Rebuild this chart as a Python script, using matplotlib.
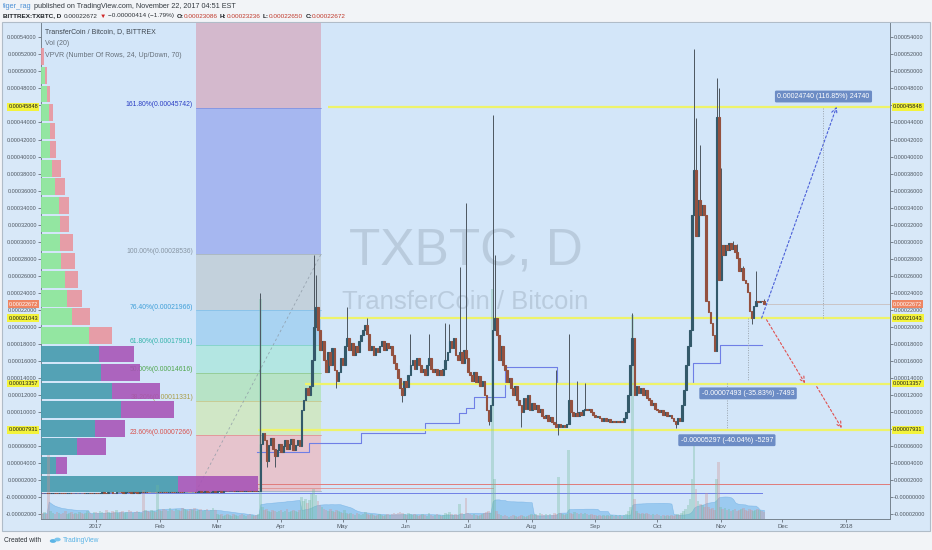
import numpy as np
import pandas as pd
import matplotlib
matplotlib.use('Agg')
import matplotlib.pyplot as plt
from matplotlib.patches import Rectangle, Circle
import matplotlib.transforms as mtrans

plt.rcParams['font.family'] = ['Liberation Sans', 'DejaVu Sans']

# ---------------- data ----------------
# prices in units of 1e-6 BTC ; days counted from 2017-01-01
start_day = -27  # 2016-12-05

closes_dec = [5.2, 5.0, 5.4, 5.1, 4.9, 5.3, 5.6, 5.2, 5.0, 5.5, 5.3, 5.1, 4.8, 5.2, 5.4, 5.0, 4.9, 5.3, 5.1, 5.5,
              5.2, 5.0, 5.4, 5.6, 5.3, 5.1, 5.5]
closes_jan = [5.4, 5.2, 5.6, 5.8, 5.5, 5.3, 5.7, 5.9, 5.6, 5.4, 5.8, 6.0, 5.7, 5.5, 5.9, 6.1, 5.8, 5.6, 6.0, 5.7,
              5.5, 5.9, 6.2, 5.9, 6.3, 6.0, 5.8, 6.1, 6.4, 6.0, 6.2]
closes_feb = [6.1, 6.4, 6.2, 6.0, 6.3, 6.5, 6.2, 6.0, 6.4, 6.6, 6.3, 6.1, 6.5, 6.7, 6.4, 6.2, 6.6, 6.3, 6.5, 6.8,
              6.4, 6.6, 6.9, 6.5, 6.3, 6.7, 7.0, 6.6]
closes_mar = [6.8, 7.1, 6.7, 6.9, 7.2, 6.8, 7.0, 7.3, 6.9, 7.1, 7.4, 7.0, 6.8, 7.2, 7.5, 7.1, 6.9, 7.3, 7.0, 6.9,
              7.0, 63, 75, 67, 43, 61, 70, 57, 49, 55, 62]
closes_apr = [53, 60, 67, 57, 63, 69, 55, 61, 67, 60, 102, 114, 128, 120, 131, 161, 200, 223, 196, 173,
              184, 161, 147, 170, 155, 175, 149, 137, 147, 163]
closes_may = [155, 178, 187, 173, 181, 167, 178, 170, 184, 190, 196, 202, 192, 173, 178, 167, 175, 170, 178, 184,
              173, 181, 175, 178, 167, 158, 151, 140, 128, 120, 137]
closes_jun = [130, 143, 155, 161, 151, 163, 155, 147, 151, 143, 155, 164, 151, 147, 151, 143, 149, 144, 151,
              161, 170, 184, 175, 187, 167, 161, 170, 158, 173, 163]
closes_jul = [147, 143, 137, 147, 135, 142, 131, 137, 120, 102, 90, 108, 196, 210, 190, 161, 178, 155, 149,
              135, 140, 128, 120, 131, 114, 108, 100, 116, 104, 120, 102]
closes_aug = [111, 104, 108, 100, 104, 96, 93, 97, 90, 94, 88, 86, 83, 86, 83, 85, 83, 86,
              114, 100, 96, 99, 95, 100, 97, 102, 104, 102, 104, 100, 97]
closes_sep = [94, 96, 93, 90, 93, 89, 92, 88, 89, 88, 89, 88, 90, 88, 93, 100, 120,
              155, 187, 120, 131, 123, 128, 120, 126, 116, 114, 108, 111, 104]
closes_oct = [102, 100, 102, 97, 100, 95, 97, 93, 90, 86, 93, 90, 108, 126, 155, 178, 196,
              331, 384, 307, 349, 331, 343, 331, 231, 217, 205, 190, 172, 446, 255]
closes_nov = [296, 284, 296, 290, 298, 292, 296, 288, 281, 266, 269, 255, 251, 241, 219, 210,
              225, 231, 229, 231, 230.86, 226.72]

wick_highs = {80: 240, 106: 284, 107: 261, 122: 223, 132: 211, 153: 192, 162: 192, 170: 205, 172: 204,
              177: 270, 180: 345, 193: 449, 194: 284, 224: 149, 230: 192, 234: 137, 238: 134, 261: 216,
              291: 526, 292: 445, 294: 413, 302: 492, 303: 480, 304: 387, 310: 301, 312: 297, 315: 272,
              321: 266, 325: 232.36}
wick_lows = {83: 35, 87: 35, 117: 128, 149: 112, 191: 85, 207: 82, 225: 73, 282: 81, 319: 204, 325: 226.5}

vol_dec = [5, 6, 7, 5, 64, 8, 6, 5, 7, 6, 5, 6, 8, 5, 6, 7, 5, 6, 5, 7, 6, 5, 6, 8, 6, 5, 7]
vol_jan = [7, 6, 8, 7, 6, 9, 7, 6, 8, 7, 9, 6, 7, 8, 6, 7, 9, 8, 6, 7, 8, 7, 6, 29, 9, 8, 7, 9, 8, 7, 34]
vol_feb = [9, 8, 10, 9, 8, 11, 9, 8, 10, 9, 8, 11, 10, 9, 8, 10, 9, 11, 8, 9, 10, 8, 9, 10, 8, 9, 11, 9]
vol_mar_a = [5, 4, 5, 3, 4, 5, 4, 3, 5, 4, 3, 4, 5, 4, 3, 4, 5, 4, 3, 4, 5]
vol_mar_b = [220, 12, 9, 10, 8, 7, 9, 8, 7, 8, 9, 7, 8, 10, 7, 8, 9, 8, 7, 9]
vol_apr = [22, 18, 20, 16, 19, 25, 30, 24, 18, 14, 12, 10, 9, 8, 10, 8, 7, 9, 8, 7]
vol_may = [6, 9, 6, 5, 6, 5, 4, 6, 5, 4, 5, 7, 5, 4, 5, 4, 3, 4, 5, 4, 3, 4, 5, 4, 5, 6, 5, 6, 7, 6]
vol_jun = [5, 4, 6, 5, 4, 5, 4, 3, 4, 5, 4, 3, 6, 4, 3, 4, 5, 4, 3, 4, 6, 5, 7, 5, 4, 5, 4, 15, 6, 5]
vol_jul = [21, 6, 5, 4, 5, 4, 3, 4, 5, 6, 7, 8, 6, 230, 40, 8, 5, 4, 3, 4, 3, 2, 3, 4, 3, 2, 3, 4, 3, 2, 3, 4]
vol_aug = [5, 4, 5, 4, 6, 5, 4, 5, 4, 5, 4, 6, 5, 42, 6, 5, 4, 5, 69, 6, 5, 7, 6, 5, 6, 5, 6, 5, 4, 5, 4]
vol_sep = [4, 3, 4, 3, 4, 3, 4, 3, 4, 3, 4, 3, 4, 3, 4, 5, 8, 12, 204, 20, 8, 6, 5, 6, 5, 6, 5, 4, 5, 4, 5]
vol_oct_a = [4, 3, 4, 3, 4, 3, 4, 3, 4, 5, 4, 6, 8, 10, 14, 20]
vol_oct_b = [40, 79, 30, 18, 15, 14, 12, 26, 12, 10, 11, 9, 40, 57, 12, 10, 11, 9, 10, 8, 9, 10, 8, 9, 10,
             11, 9, 8, 10, 9, 8, 9, 10, 9, 8, 7]

month_days = [0, 31, 59, 90, 120, 151, 181, 212, 243, 273, 304, 334, 365]
month_labels = ['2017', 'Feb', 'Mar', 'Apr', 'May', 'Jun', 'Jul', 'Aug', 'Sep', 'Oct', 'Nov', 'Dec', '2018']

# volume profile (24 rows), up / down volume per row, bottom row first
vp_low, vp_high = 4.7, 528.0
vp_up = [137, 15, 36, 54, 80, 71, 60, 58, 48, 31, 26, 24, 20, 19, 19, 18, 14, 11, 9, 9, 8, 6, 4, 0.5]
vp_down = [80, 11, 29, 30, 53, 48, 39, 35, 23, 18, 15, 13, 14, 13, 9, 10, 10, 9, 6, 5, 4, 3, 2, 2.5]
vp_value_rows = 8

fib_values = [6.96, 72.66, 113.31, 146.16, 179.01, 219.66, 285.36, 457.42, 735.80]
fib_labels = [None, '23.60%(0.00007266)', '38.20%(0.00011331)', '50.00%(0.00014616)',
              '61.80%(0.00017901)', '76.40%(0.00021966)', '100.00%(0.00028536)', '161.80%(0.00045742)', None]
fib_start, fib_end = 48.7, 109.5

yellow_levels = [458.48, 210.43, 133.57, 79.31]
yellow_start = [112.9, 107.5, 101.7, 78.8]
last_price = 226.72

step_days = [78.2, 103.8, 128.8, 160.1, 176.6, 180.0, 184.0, 199.0, 224.3, 290.4, 303.6, 324.0]
step_vals = [53.5, 63.4, 75.1, 86.9, 98.6, 104.5, 118.1, 153.3, 134.2, 157.6, 178.8, 178.8]

# ---------------- figure ----------------
W, H = 932, 550
fig = plt.figure(figsize=(W / 100, H / 100), dpi=100)
fig.patch.set_facecolor('#f2f4f7')


def fx(x):
    return x / W


def fy(y):
    return 1 - y / H


fig.add_artist(Rectangle((fx(2), fy(531)), 928 / W, (531 - 22) / H, transform=fig.transFigure,
                         fc='#d8e8f8', ec='#b0bcc8', lw=0.8, zorder=-5))

L, R, T, B = 41, 890, 23, 519
ax = fig.add_axes([fx(L), fy(B), (R - L) / W, (B - T) / H])
ax.set_facecolor('#d3e6f9')
ax.set_xlim(-26.76, 386.37)
ax.set_ylim(-25.5, 556.8)
xmin, xmax = ax.get_xlim()
ymin, ymax = ax.get_ylim()
day_per_unit = (xmax - xmin) / (R - L)
price_per_unit = (ymax - ymin) / (B - T)

closes = np.array(closes_dec + closes_jan + closes_feb + closes_mar + closes_apr + closes_may + closes_jun +
                  closes_jul + closes_aug + closes_sep + closes_oct + closes_nov, float)
volumes = np.array(vol_dec + vol_jan + vol_feb + vol_mar_a + vol_mar_b + vol_apr + vol_may + vol_jun +
                   vol_jul + vol_aug + vol_sep + vol_oct_a + vol_oct_b, float)
days = np.arange(start_day, start_day + len(closes))

opens = np.r_[closes[0], closes[:-1]]
highs = np.maximum(opens, closes)
lows = np.minimum(opens, closes)
for d, v in wick_highs.items():
    highs[d - start_day] = max(highs[d - start_day], v)
for d, v in wick_lows.items():
    lows[d - start_day] = min(lows[d - start_day], v)
up = closes >= opens

# watermark
ax.text(0.5006, 0.538, 'TXBTC, D', transform=ax.transAxes, fontsize=37, color='#a5b6c7', alpha=0.55,
        ha='center', va='center', zorder=0.5)
ax.text(0.5, 0.4375, 'TransferCoin / Bitcoin', transform=ax.transAxes, fontsize=18.5, color='#a5b6c7',
        alpha=0.55, ha='center', va='center', zorder=0.5)

# fib retracement
fib_fill = ['#e6c4cd', '#d0e7c6', '#b7e3c6', '#b3e6e2', '#a9d3f2', '#c3d1dc', '#a6b7f0', '#d4b9cd']
fib_line = ['#8a96a2', '#e07a76', '#c0b870', '#7cbf78', '#66c6bc', '#74b8e2', '#9aa6b0', '#7080d8', '#d08aa8']
fib_text = [None, '#d9534f', '#a89d45', '#4fa64c', '#33b3aa', '#3f9fd8', '#8795a3', '#2b3fc4', None]
for i in range(len(fib_values) - 1):
    ax.add_patch(Rectangle((fib_start, fib_values[i]), fib_end - fib_start, fib_values[i + 1] - fib_values[i],
                           fc=fib_fill[i], ec='none', zorder=2))
for i, v in enumerate(fib_values):
    ax.plot([fib_start, fib_end], [v, v], color=fib_line[i], lw=0.5, alpha=0.8, zorder=2.2)
    if fib_labels[i]:
        ax.text(fib_start - 1.5, v + 3.3, fib_labels[i], color=fib_text[i], fontsize=4.9,
                ha='right', va='center', zorder=5.5)
ax.plot([fib_start, fib_end], [fib_values[0], fib_values[6]], color='#8d99a5', lw=0.6,
        ls=(0, (3, 3)), alpha=0.8, zorder=2.3)

# volume profile
nrows = len(vp_up)
row_h = (vp_high - vp_low) / nrows
for i in range(nrows):
    yc = vp_low + (i + 0.5) * row_h
    in_va = i < vp_value_rows
    cu = '#4a9db0' if in_va else '#8ee79a'
    cd = '#a752b6' if in_va else '#e9939c'
    wu = vp_up[i] * day_per_unit
    wd = vp_down[i] * day_per_unit
    ax.barh(yc, wu, left=xmin, height=row_h * 0.9, color=cu, alpha=0.93, lw=0, zorder=6)
    ax.barh(yc, wd, left=xmin + wu, height=row_h * 0.9, color=cd, alpha=0.88, lw=0, zorder=6)

# volume (MA area + translucent bars)
ma = pd.Series(volumes).rolling(20, min_periods=1).mean().values
ax.fill_between(days, ymin, ymin + ma * price_per_unit, color='#8ec3ee', alpha=0.8, lw=0.4,
                edgecolor='#74b2e6', zorder=1.2)
vcol = np.where(up, '#6fb99a', '#cf8f8f')
ax.bar(days, volumes * price_per_unit, bottom=ymin, width=1.3, color=vcol, alpha=0.33, lw=0, zorder=6.5)

# indicator lines
ax.step(step_days, step_vals, where='post', color='#6f7fe6', lw=0.8, zorder=3)
ax.plot([78.8, xmax], [15.3, 15.3], color='#e07b7b', lw=0.7, zorder=3)
ax.plot([79.0, 193.0], [11.3, 11.3], color='#e09090', lw=0.6, zorder=3)
ax.plot([start_day, 324], [4.7, 4.7], color='#6f7fe6', lw=0.7, zorder=3)

# yellow levels
for v, s in zip(yellow_levels, yellow_start):
    ax.plot([s, xmax], [v, v], color='#eef36a', lw=1.6, zorder=3.5, solid_capstyle='butt')
ax.plot([days[-1], xmax], [last_price, last_price], color='#c7b8b2', lw=0.5, zorder=3.4)

# candles
ax.vlines(days, lows, highs, color='#4c5660', lw=0.7, zorder=7)
upc, dnc = '#33596a', '#94513f'
ax.bar(days[up], (closes - opens)[up], bottom=opens[up], width=0.85, color=upc, edgecolor=upc, lw=0.8,
       zorder=7.5)
ax.bar(days[~up], (opens - closes)[~up], bottom=closes[~up], width=0.85, color=dnc, edgecolor=dnc, lw=0.8,
       zorder=7.5)

# projections / measurements
ax.annotate('', xy=(360.4, 458.5), xytext=(323.9, 210.4),
            arrowprops=dict(arrowstyle='->', color='#4a5fd8', lw=0.8, ls=(0, (2, 2)), shrinkA=0, shrinkB=0),
            zorder=8)
ax.annotate('', xy=(345.0, 133.8), xytext=(326.3, 208.4),
            arrowprops=dict(arrowstyle='->', color='#e05050', lw=0.8, ls=(0, (2, 2)), shrinkA=0, shrinkB=0),
            zorder=8)
ax.annotate('', xy=(362.9, 81.0), xytext=(350.7, 129.9),
            arrowprops=dict(arrowstyle='->', color='#e05050', lw=0.8, ls=(0, (2, 2)), shrinkA=0, shrinkB=0),
            zorder=8)
for xd, y0, y1 in [(353.6, 210.5, 458.5), (317.1, 210.5, 136.5), (306.9, 134.2, 81.3)]:
    ax.plot([xd, xd], [y0, y1], color='#9aa4ae', lw=0.7, ls=(0, (1, 1.5)), zorder=8)
box = dict(boxstyle='round,pad=0.35,rounding_size=0.2', fc='#6c8cc5', ec='none')
ax.text(354.0, 470.5, '0.00024740 (116.85%) 24740', color='white', fontsize=5.0, ha='center', va='center',
        bbox=box, zorder=9)
ax.text(317.3, 122.0, '-0.00007493 (-35.83%) -7493', color='white', fontsize=5.0, ha='center', va='center',
        bbox=box, zorder=9)
ax.text(307.0, 67.0, '-0.00005297 (-40.04%) -5297', color='white', fontsize=5.0, ha='center', va='center',
        bbox=box, zorder=9)

# legend text in pane
ax.text(0.0047, 0.982, 'TransferCoin / Bitcoin, D, BITTREX', transform=ax.transAxes, fontsize=5.0,
        color='#3f4750', ha='left', va='center', zorder=10)
ax.text(0.0047, 0.958, 'Vol (20)', transform=ax.transAxes, fontsize=5.0, color='#66707a', ha='left',
        va='center', zorder=10)
ax.text(0.0047, 0.935, 'VPVR (Number Of Rows, 24, Up/Down, 70)', transform=ax.transAxes, fontsize=5.0,
        color='#66707a', ha='left', va='center', zorder=10)


# axes
def fmt(v):
    if abs(v) < 1e-9:
        return '-0.00000000'
    return '%.8f' % (v * 1e-6)


yt = np.arange(-20, 541, 20)
ax.set_yticks(yt)
ax.set_yticklabels([fmt(v) for v in yt])
ax.tick_params(axis='y', left=True, right=True, labelleft=True, labelright=True, labelsize=4.0,
               length=2.2, width=0.5, pad=0.8, colors='#4f5862')
ax.set_xticks(month_days)
ax.set_xticklabels(month_labels)
ax.tick_params(axis='x', labelsize=4.4, length=2, width=0.5, pad=1.5, colors='#4f5862')
ax.spines['top'].set_visible(False)
for s in ('left', 'right', 'bottom'):
    ax.spines[s].set_color('#76838f')
    ax.spines[s].set_linewidth(0.7)

bl = mtrans.blended_transform_factory(ax.transAxes, ax.transData)


def price_box(v, fc, tc):
    for xa, ha in ((-0.0035, 'right'), (1.0035, 'left')):
        ax.text(xa, v, fmt(v), transform=bl, ha=ha, va='center', fontsize=4.0, color=tc, clip_on=False,
                zorder=20, bbox=dict(boxstyle='square,pad=0.25', fc=fc, ec='none'))


for v in yellow_levels:
    price_box(v, '#f3f33c', '#1a1a1a')
price_box(last_price, '#ee8562', 'white')

# header
renderer = fig.canvas.get_renderer()


def seq(x, y, parts, size):
    for s, col, wt, gap in parts:
        t = fig.text(fx(x), fy(y), s, fontsize=size, color=col, fontweight=wt, ha='left', va='center')
        x += t.get_window_extent(renderer).width + gap


seq(3, 6, [('tiger_rag', '#4b90d6', 'normal', 2.0),
           ('published on TradingView.com, November 22, 2017 04:51 EST', '#333a40', 'normal', 0)], 5.2)
seq(3, 16, [('BITTREX:TXBTC, D', '#1e2226', 'bold', 2.5),
            ('0.00022672', '#2e3338', 'normal', 2.0),
            ('\u25bc', '#d02626', 'normal', 2.0),
            ('\u22120.00000414 (\u22121.79%)', '#2e3338', 'normal', 2.5),
            ('O:', '#1e2226', 'bold', 0), ('0.00023086', '#c0392b', 'normal', 2.5),
            ('H:', '#1e2226', 'bold', 0), ('0.00023236', '#c0392b', 'normal', 2.5),
            ('L:', '#1e2226', 'bold', 0), ('0.00022650', '#c0392b', 'normal', 2.5),
            ('C:', '#1e2226', 'bold', 0), ('0.00022672', '#c0392b', 'normal', 0)], 4.6)

# footer
fig.text(fx(4), fy(541), 'Created with', fontsize=4.8, color='#2e3338', ha='left', va='center')
fig.add_artist(Circle((fx(53), fy(541)), 3.2 / W, transform=fig.transFigure, fc='#5ab4e6', ec='none'))
fig.add_artist(Circle((fx(57.5), fy(539.5)), 3.2 / W, transform=fig.transFigure, fc='#7cc6ee', ec='none'))
fig.text(fx(63), fy(541), 'TradingView', fontsize=4.8, color='#5ab4e6', ha='left', va='center')

fig.savefig('out.png', dpi=100, facecolor=fig.get_facecolor())
